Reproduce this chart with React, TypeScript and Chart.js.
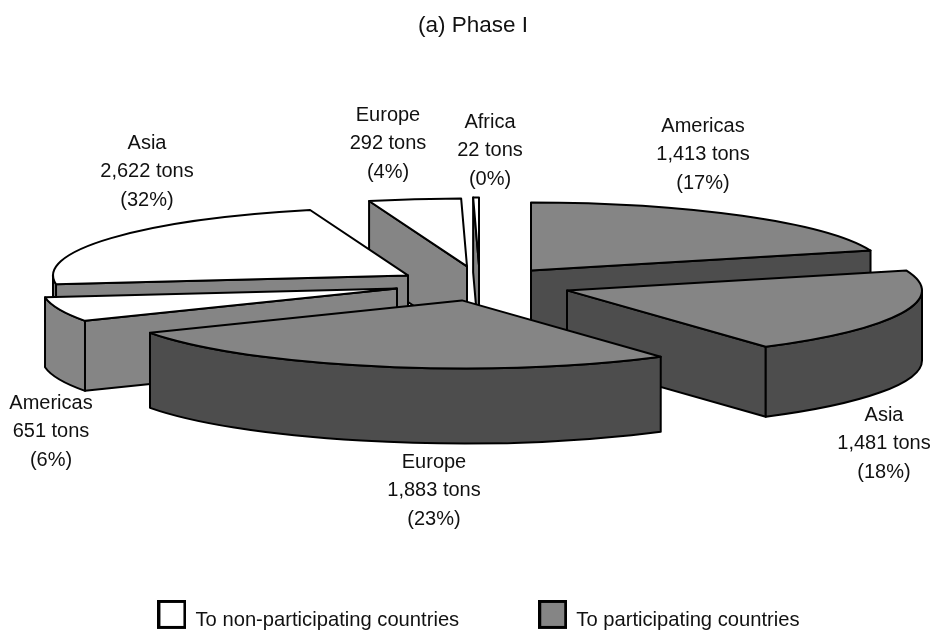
import React, { useEffect, useRef } from "react";
import { Chart, registerables } from "chart.js";

Chart.register(...registerables);

// Shipments by region, clockwise from twelve o'clock.
const regions = ["Americas", "Asia", "Europe", "Americas", "Asia", "Europe", "Africa"];
const tons = [1413, 1481, 1883, 651, 2622, 292, 22];
const shares = [17, 18, 23, 6, 32, 4, 0];
const participating = [true, true, true, false, false, false, false];
const legendNames = ["To non-participating countries", "To participating countries"];

const FONT = '"Liberation Sans", Arial, sans-serif';
const INK = "#000000";
const GREY = "#858585";
const DARK = "#4d4d4d";

// Appearance of the tilted, exploded pie.
const RADIUS = 180;
const SQUASH_X = 355 / RADIUS;
const SQUASH_Y = 68 / RADIUS;
const thickness = [72, 70, 75, 70, 72, 75, 75];
// Pull-out of each slice from the hub, in px.
const explode = [
  [61, -8], [97, 12], [-8, 22], [-73, 10], [-62, -3], [-3, -12], [9, -13],
];
// Oblique view: sweep angle on the pie (deg) -> apparent angle on the ellipse (deg).
const viewIn = [0, 60.8, 124.6, 205.6, 233.6, 346.5, 359, 360];
const viewOut = [0, 73, 146, 241.5, 262.5, 344, 359, 360];
// Back-to-front painting order.
const paintOrder = [6, 5, 4, 0, 3, 1, 2];
// Caption centre and first-line baseline for each slice.
const captionSpots = [
  [703, 126], [884, 415], [434, 462], [51, 403], [147, 143], [388, 115], [490, 122],
];
const LINE_GAP = 28.5;
const LEGEND_SHIFT_X = 9;
const LEGEND_SHIFT_Y = 13.5;
const TITLE_SHIFT_X = 3;

function viewAngle(deg: number): number {
  for (let i = 1; i < viewIn.length; i++) {
    if (deg <= viewIn[i] + 1e-6) {
      const f = (deg - viewIn[i - 1]) / (viewIn[i] - viewIn[i - 1]);
      return viewOut[i - 1] + f * (viewOut[i] - viewOut[i - 1]);
    }
  }
  return deg;
}

// Legend key: an outlined square that rides above the text's centre line.
function makeSwatch(fill: string): HTMLCanvasElement {
  const c = document.createElement("canvas");
  c.width = 29;
  c.height = 41;
  const g = c.getContext("2d")!;
  g.fillStyle = fill;
  g.strokeStyle = INK;
  g.lineWidth = 3;
  g.fillRect(1.5, 1.5, 26, 26);
  g.strokeRect(1.5, 1.5, 26, 26);
  return c;
}

const pie3d = {
  id: "pie3d",
  afterLayout(chart: any) {
    const legend = chart.legend;
    legend.top += LEGEND_SHIFT_Y;
    legend.bottom += LEGEND_SHIFT_Y;
    legend.left += LEGEND_SHIFT_X;
    legend.right += LEGEND_SHIFT_X;
    chart.titleBlock.left += TITLE_SHIFT_X;
    chart.titleBlock.right += TITLE_SHIFT_X;
  },
  beforeDatasetDraw(chart: any) {
    const ctx: CanvasRenderingContext2D = chart.ctx;
    const arcs = chart.getDatasetMeta(0).data;
    ctx.save();
    ctx.lineWidth = 2;
    ctx.lineJoin = "round";
    ctx.strokeStyle = INK;
    for (const i of paintOrder) {
      const arc = arcs[i];
      const rx = arc.outerRadius * SQUASH_X;
      const ry = arc.outerRadius * SQUASH_Y;
      const px = arc.x + explode[i][0];
      const py = arc.y + explode[i][1];
      const depth = thickness[i];
      const d0 = ((arc.startAngle + Math.PI / 2) * 180) / Math.PI;
      const d1 = ((arc.endAngle + Math.PI / 2) * 180) / Math.PI;
      const t0 = viewAngle(d0);
      const t1 = viewAngle(d1);
      const rad = (t: number) => ((t - 90) * Math.PI) / 180;
      const rim = (t: number): [number, number] => [
        px + rx * Math.cos(rad(t)),
        py + ry * Math.sin(rad(t)),
      ];
      const topFill = participating[i] ? GREY : "#ffffff";
      const wallFill = participating[i] ? DARK : GREY;

      const radialWall = (t: number) => {
        const [qx, qy] = rim(t);
        ctx.beginPath();
        ctx.moveTo(px, py);
        ctx.lineTo(qx, qy);
        ctx.lineTo(qx, qy + depth);
        ctx.lineTo(px, py + depth);
        ctx.closePath();
        ctx.fillStyle = wallFill;
        ctx.fill();
        ctx.stroke();
      };
      if (Math.sin((t0 * Math.PI) / 180) < -1e-3) radialWall(t0);
      if (Math.sin((t1 * Math.PI) / 180) > 1e-3) radialWall(t1);

      // Only the near half of the rim is ever seen.
      const a = Math.max(t0, 90);
      const b = Math.min(t1, 270);
      if (b > a) {
        ctx.beginPath();
        ctx.ellipse(px, py, rx, ry, 0, rad(a), rad(b));
        ctx.ellipse(px, py + depth, rx, ry, 0, rad(b), rad(a), true);
        ctx.closePath();
        ctx.fillStyle = wallFill;
        ctx.fill();
        ctx.stroke();
      }

      ctx.beginPath();
      ctx.moveTo(px, py);
      ctx.ellipse(px, py, rx, ry, 0, rad(t0), rad(t1));
      ctx.closePath();
      ctx.fillStyle = topFill;
      ctx.fill();
      ctx.stroke();
    }
    ctx.restore();
    return false;
  },
  afterDatasetsDraw(chart: any) {
    const ctx: CanvasRenderingContext2D = chart.ctx;
    ctx.save();
    ctx.font = `20px ${FONT}`;
    ctx.fillStyle = "#111111";
    ctx.textAlign = "center";
    ctx.textBaseline = "middle";
    regions.forEach((name, i) => {
      const [x, y] = captionSpots[i];
      ctx.fillText(name, x, y);
      ctx.fillText(`${tons[i].toLocaleString("en-US")} tons`, x, y + LINE_GAP);
      ctx.fillText(`(${shares[i]}%)`, x, y + LINE_GAP * 2);
    });
    ctx.restore();
  },
};

export default function App() {
  const ref = useRef<HTMLCanvasElement>(null);
  useEffect(() => {
    const swatches = [makeSwatch("#ffffff"), makeSwatch(GREY)];
    const chart = new Chart(ref.current!, {
      type: "pie",
      plugins: [pie3d],
      data: {
        labels: regions,
        datasets: [{ data: tons, borderWidth: 0, backgroundColor: participating.map((p) => (p ? GREY : "#ffffff")) }],
      },
      options: {
        responsive: false,
        animation: false,
        radius: RADIUS,
        layout: { padding: { left: 7, bottom: 7 } },
        plugins: {
          tooltip: { enabled: false },
          title: {
            display: true,
            text: "(a) Phase I",
            color: "#111111",
            font: { family: FONT, size: 22.5, weight: "normal" },
            padding: { top: 12, bottom: 1 },
          },
          legend: {
            display: true,
            position: "bottom",
            labels: {
              padding: 80,
              usePointStyle: true,
              pointStyleWidth: 27,
              color: "#111111",
              font: { family: FONT, size: 20.2 },
              generateLabels: () =>
                legendNames.map((text, i) => ({
                  text,
                  pointStyle: swatches[i],
                  fontColor: "#111111",
                })),
            },
          },
        },
      } as any,
    });
    return () => chart.destroy();
  }, []);
  return (
    <div style={{ position: "absolute", left: 0, top: 0, width: 933, height: 634, background: "#fff" }}>
      <canvas ref={ref} width={933} height={634} />
    </div>
  );
}
